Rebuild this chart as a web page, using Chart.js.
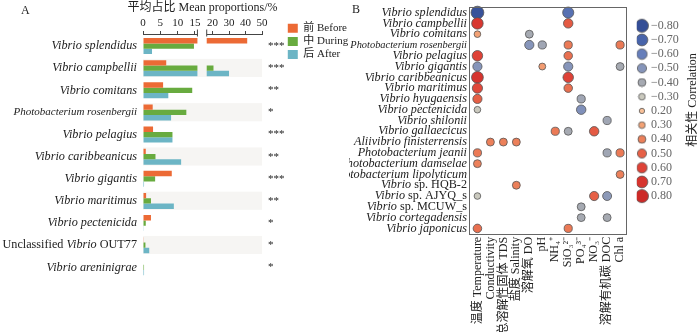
<!DOCTYPE html>
<html>
<head>
<meta charset="utf-8">
<script src="https://cdn.jsdelivr.net/npm/chart.js@4.4.1/dist/chart.umd.min.js"></script>
<style>
  html, body { margin: 0; padding: 0; background: #fff; }
  #wrap { position: relative; width: 700px; height: 332px; overflow: hidden; }
  #bars { position: absolute; left: 0; top: 0; }
  #dots { position: absolute; left: 349px; top: 0; }
</style>
</head>
<body>
<div id="wrap">
  <canvas id="bars" width="360" height="332"></canvas>
  <canvas id="dots" width="351" height="332"></canvas>
</div>
<script>
// ---- panel A: mean proportions (%) ----
const speciesA = ['Vibrio splendidus', 'Vibrio campbellii', 'Vibrio comitans', 'Photobacterium rosenbergii',
  'Vibrio pelagius', 'Vibrio caribbeanicus', 'Vibrio gigantis', 'Vibrio maritimus', 'Vibrio pectenicida',
  'Unclassified Vibrio OUT77', 'Vibrio areninigrae'];
const before = [41, 6.7, 5.8, 2.8, 2.9, 0.8, 8.3, 0.9, 2.3, 0.1, 0];
const during = [14.7, 20.6, 14.2, 12.5, 8.5, 3.6, 3.5, 2.3, 0.8, 0.7, 0.3];
const after = [2.6, 30, 7.3, 8.1, 8.5, 11, 0.3, 8.9, 0.1, 1.8, 0.3];
const stars = ['***', '***', '**', '*', '***', '**', '***', '**', '*', '*', '*'];
const xTicksA = [0, 5, 10, 15, 20, 30, 40, 50];
const axisBreak = [15.7, 16.5];

// ---- panel B: correlations ----
const speciesB = ['Vibrio splendidus', 'Vibrio campbellii', 'Vibrio comitans', 'Photobacterium rosenbergii',
  'Vibrio pelagius', 'Vibrio gigantis', 'Vibrio caribbeanicus', 'Vibrio maritimus', 'Vibrio hyugaensis',
  'Vibrio pectenicida', 'Vibrio shilonii', 'Vibrio gallaecicus', 'Aliivibrio finisterrensis',
  'Photobacterium jeanii', 'Photobacterium damselae', 'Photobacterium lipolyticum', 'Vibrio sp. HQB-2',
  'Vibrio sp. AJYQ_s', 'Vibrio sp. MCUW_s', 'Vibrio cortegadensis', 'Vibrio japonicus'];
const variables = ['温度 Temperature', 'Conductivity', '总溶解性固体 TDS', '盐度 Salinity', '溶解氧 DO', 'pH',
  'NH₄⁺', 'SiO₃²⁻', 'PO₄³⁻', 'NO₃⁻', '溶解有机碳 DOC', 'Chl a'];
const _ = null;
const corr = [
  [-0.78, _, _, _, _, _, _, -0.65, _, _, _, _],
  [0.68, _, _, _, _, _, _, 0.52, _, _, _, _],
  [0.3, _, _, _, -0.4, _, _, _, _, _, _, _],
  [_, _, _, _, -0.5, -0.42, _, 0.42, _, _, _, 0.42],
  [0.6, _, _, _, _, _, _, 0.45, _, _, _, _],
  [-0.5, _, _, _, _, 0.32, _, -0.5, _, _, _, -0.4],
  [0.7, _, _, _, _, _, _, 0.6, _, _, _, _],
  [0.58, _, _, _, _, _, _, 0.45, _, _, _, _],
  [0.5, _, _, _, _, _, _, _, -0.42, _, _, _],
  [-0.3, _, _, _, _, _, _, _, -0.52, _, _, _],
  [_, _, _, _, _, _, _, _, _, _, -0.42, _],
  [_, _, _, _, _, _, 0.42, -0.4, _, 0.52, _, _],
  [_, 0.4, 0.4, 0.4, _, _, _, _, _, _, _, _],
  [0.42, _, _, _, _, _, _, _, _, _, -0.42, 0.42],
  [0.4, _, _, _, _, _, _, _, _, _, _, _],
  [_, _, _, _, _, _, _, _, _, _, _, 0.4],
  [_, _, _, 0.4, _, _, _, _, _, _, _, _],
  [-0.3, _, _, _, _, _, _, _, _, 0.5, -0.48, _],
  [_, _, _, _, _, _, _, _, -0.4, _, _, _],
  [_, _, _, _, _, _, _, _, -0.4, _, -0.4, _],
  [0.45, _, _, _, _, _, _, 0.42, _, _, _, _]
];
const corrLevels = [-0.8, -0.7, -0.6, -0.5, -0.4, -0.3, 0.2, 0.3, 0.4, 0.5, 0.6, 0.7, 0.8];
const levelColors = [[52, 78, 150], [72, 100, 170], [102, 126, 186], [134, 149, 186], [166, 170, 178],
  [202, 201, 190], [248, 192, 152], [243, 162, 117], [236, 128, 90], [230, 96, 70], [222, 66, 55],
  [214, 52, 46], [204, 42, 40]];

const FONT = "'Liberation Serif', 'Noto Sans CJK SC', serif";
const INK = '#222';

function corrColor(v) {
  let i = corrLevels.findIndex(l => l >= v);
  if (i <= 0) i = i === 0 ? 0 : corrLevels.length - 1;
  else {
    const t = (v - corrLevels[i - 1]) / (corrLevels[i] - corrLevels[i - 1]);
    const c = levelColors[i - 1].map((a, k) => Math.round(a + (levelColors[i][k] - a) * t));
    return `rgb(${c})`;
  }
  return `rgb(${levelColors[i]})`;
}
const corrRadius = v => 1.4 + Math.abs(v) * 6.4;

function dotImage(v) {
  const r = corrRadius(v);
  const s = Math.ceil(2 * r + 2);
  const cv = document.createElement('canvas');
  cv.width = s; cv.height = s;
  const c = cv.getContext('2d');
  c.beginPath();
  c.arc(s / 2, s / 2, r, 0, Math.PI * 2);
  c.fillStyle = corrColor(v);
  c.fill();
  c.lineWidth = 0.8;
  c.strokeStyle = '#555';
  c.stroke();
  return cv;
}

// labels that mix italic genus names with upright text
function mixedParts(label) {
  let m = label.match(/^(Unclassified )(Vibrio)( .+)$/);
  if (m) return [[m[1], false], [m[2], true], [m[3], false]];
  m = label.match(/^(Vibrio)( sp\. .+)$/);
  if (m) return [[m[1], true], [m[2], false]];
  return null;
}

function drawMixed(ctx, parts, xRight, y, size) {
  ctx.save();
  ctx.textBaseline = 'middle';
  ctx.textAlign = 'left';
  ctx.fillStyle = INK;
  const fonts = parts.map(p => (p[1] ? 'italic ' : '') + size + 'px ' + FONT);
  let w = 0;
  parts.forEach((p, i) => { ctx.font = fonts[i]; w += ctx.measureText(p[0]).width; });
  let x = xRight - w;
  parts.forEach((p, i) => {
    ctx.font = fonts[i];
    ctx.fillText(p[0], x, y);
    x += ctx.measureText(p[0]).width;
  });
  ctx.restore();
}

// linear axis with a gap between axisBreak[0] and axisBreak[1]
class BrokenLinear extends Chart.LinearScale {
  static id = 'brokenLinear';
  static defaults = Chart.LinearScale.defaults;
  getPixelForValue(v) {
    const [b0, b1] = axisBreak;
    const f0 = 0.457, f1 = 0.535;
    let d;
    if (v <= b0) d = (v - this.min) / (b0 - this.min) * f0;
    else if (v >= b1) d = f1 + (v - b1) / (this.max - b1) * (1 - f1);
    else d = f0 + (v - b0) / (b1 - b0) * (f1 - f0);
    return this.getPixelForDecimal(d);
  }
}
Chart.register(BrokenLinear);

const panelA = {
  id: 'panelA',
  beforeDatasetsDraw(chart) {
    const {ctx, chartArea: a, scales: {x, y}} = chart;
    const pitch = y.getPixelForValue(1) - y.getPixelForValue(0);
    ctx.save();
    ctx.fillStyle = '#f6f5f3';
    speciesA.forEach((s, i) => {
      if (i % 2 === 1) {
        const c = y.getPixelForValue(i);
        ctx.fillRect(a.left, c - pitch * 0.42, a.right - a.left, pitch * 0.82);
      }
    });
    ctx.restore();
    const g0 = x.getPixelForValue(axisBreak[0]);
    const g1 = x.getPixelForValue(axisBreak[1]);
    ctx.save();
    ctx.beginPath();
    ctx.rect(0, 0, g0, chart.height);
    ctx.rect(g1, 0, chart.width - g1, chart.height);
    ctx.clip();
  },
  afterDatasetsDraw(chart) {
    chart.ctx.restore();
  },
  afterDraw(chart) {
    const {ctx, chartArea: a, scales: {x, y}} = chart;
    const ay = x.bottom - 0.5;
    const g0 = x.getPixelForValue(axisBreak[0]);
    const g1 = x.getPixelForValue(axisBreak[1]);
    ctx.save();
    ctx.strokeStyle = '#444';
    ctx.lineWidth = 1;
    ctx.beginPath();
    ctx.moveTo(x.getPixelForValue(0), ay); ctx.lineTo(g0, ay);
    ctx.moveTo(g1, ay); ctx.lineTo(x.getPixelForValue(50), ay);
    ctx.moveTo(g0, ay - 5); ctx.lineTo(g0, ay + 2);
    ctx.moveTo(g1, ay - 5); ctx.lineTo(g1, ay + 2);
    ctx.stroke();
    ctx.fillStyle = INK;
    ctx.textBaseline = 'middle';
    ctx.font = '12px ' + FONT;
    ctx.fillText('A', 21, 11);
    ctx.textAlign = 'center';
    ctx.fillText('平均占比 Mean proportions/%', (a.left + a.right) / 2, 8);
    ctx.restore();
    speciesA.forEach((s, i) => {
      const parts = mixedParts(s);
      if (parts) drawMixed(ctx, parts, y.right - 6, y.getPixelForValue(i), 12.2);
    });
  }
};

new Chart(document.getElementById('bars'), {
  type: 'bar',
  data: {
    labels: speciesA,
    datasets: [
      {label: '前 Before', data: before, backgroundColor: '#ec6a35'},
      {label: '中 During', data: during, backgroundColor: '#68ab3f'},
      {label: '后 After', data: after, backgroundColor: '#6cb5c5'}
    ]
  },
  options: {
    indexAxis: 'y',
    responsive: false,
    animation: false,
    categoryPercentage: 0.72,
    barPercentage: 1,
    layout: {padding: {left: 0, right: 1.8, top: 17, bottom: 53.6}},
    scales: {
      x: {
        type: 'brokenLinear',
        position: 'top',
        min: 0,
        max: 50,
        afterBuildTicks: s => { s.ticks = xTicksA.map(value => ({value})); },
        afterFit: s => { s.height = 18; },
        grid: {drawOnChartArea: false, tickLength: 4, color: '#444'},
        border: {display: false},
        ticks: {autoSkip: false, minRotation: 0, maxRotation: 0, padding: 1, color: INK,
          font: {family: FONT, size: 11}, callback: v => String(v)}
      },
      y: {
        afterFit: s => { s.width = 143; },
        grid: {display: false, drawTicks: false},
        border: {display: false},
        ticks: {
          autoSkip: false,
          padding: 6,
          color: INK,
          font: c => ({family: FONT, style: 'italic',
            size: speciesA[c.index] === 'Photobacterium rosenbergii' ? 11 : 12.2}),
          callback: (v, i) => mixedParts(speciesA[i]) ? '' : speciesA[i]
        }
      },
      stars: {
        type: 'category',
        labels: stars,
        position: 'right',
        offset: true,
        afterFit: s => { s.width = 23.5; },
        grid: {display: false, drawTicks: false},
        border: {display: false},
        ticks: {autoSkip: false, padding: 6, color: INK, font: {family: FONT, size: 11}}
      }
    },
    plugins: {
      title: {display: false},
      legend: {
        position: 'right',
        align: 'start',
        maxWidth: 120,
        title: {display: true, text: '', padding: {top: 2.3, bottom: 0}, font: {size: 1}},
        labels: {boxWidth: 10, boxHeight: 9, padding: 2.2, color: INK, font: {family: FONT, size: 11}}
      },
      tooltip: {enabled: false}
    }
  },
  plugins: [panelA]
});

// ---- panel B ----
const bubbles = [];
corr.forEach((row, i) => row.forEach((v, j) => {
  if (v !== null) bubbles.push({x: j, y: speciesB[i], v});
}));

const fmtCorr = v => (v < 0 ? '\u2212' : '') + Math.abs(v).toFixed(2);

const panelB = {
  id: 'panelB',
  afterDraw(chart) {
    const {ctx, chartArea: a, scales: {y}} = chart;
    ctx.save();
    ctx.strokeStyle = '#666';
    ctx.lineWidth = 1;
    ctx.strokeRect(Math.round(a.left) + 0.5, Math.round(a.top) + 0.5,
      Math.round(a.right - a.left), Math.round(a.bottom - a.top));
    ctx.fillStyle = INK;
    ctx.font = '12px ' + FONT;
    ctx.textBaseline = 'middle';
    ctx.fillText('B', 3, 10);
    ctx.translate(chart.width - 7, 100);
    ctx.rotate(-Math.PI / 2);
    ctx.textAlign = 'center';
    ctx.fillText('相关性 Correlation', 0, 0);
    ctx.restore();
    speciesB.forEach((s, i) => {
      const parts = mixedParts(s);
      if (parts) drawMixed(ctx, parts, y.right - 2, y.getPixelForValue(i), 12.2);
    });
  }
};

new Chart(document.getElementById('dots'), {
  type: 'bubble',
  data: {
    datasets: [{
      data: bubbles,
      backgroundColor: c => c.raw ? corrColor(c.raw.v) : '#999',
      radius: c => c.raw ? corrRadius(c.raw.v) : 3,
      borderColor: '#555',
      borderWidth: 0.8
    }]
  },
  options: {
    responsive: false,
    animation: false,
    layout: {padding: {left: 0, right: 11.3, top: 3.8, bottom: 0}},
    scales: {
      x: {
        type: 'linear',
        position: 'bottom',
        min: -0.65,
        max: 11.45,
        afterBuildTicks: s => { s.ticks = variables.map((t, value) => ({value})); },
        afterFit: s => { s.height = 98.2; },
        grid: {display: false, drawTicks: false},
        border: {display: false},
        ticks: {autoSkip: false, minRotation: 90, maxRotation: 90, padding: 3, color: INK,
          font: {family: FONT, size: 12}, callback: v => variables[v] ?? ''}
      },
      y: {
        type: 'category',
        labels: speciesB,
        offset: true,
        afterFit: s => { s.width = 120; s.paddingTop = 0; s.paddingBottom = 0; },
        grid: {display: false, drawTicks: false},
        border: {display: false},
        ticks: {
          autoSkip: false,
          padding: 2,
          color: INK,
          font: c => ({family: FONT, style: 'italic',
            size: speciesB[c.index] === 'Photobacterium rosenbergii' ? 10.4 : 12.2}),
          callback: (v, i) => mixedParts(speciesB[i]) ? '' : speciesB[i]
        }
      },
      gap: {
        type: 'linear',
        position: 'right',
        afterFit: s => { s.width = 10.8; s.paddingTop = 0; s.paddingBottom = 0; },
        grid: {display: false, drawTicks: false},
        border: {display: false},
        ticks: {display: false}
      }
    },
    plugins: {
      legend: {
        position: 'right',
        align: 'start',
        maxWidth: 120,
        title: {display: true, text: '', padding: {top: 12.5, bottom: 0}, font: {size: 1}},
        labels: {
          usePointStyle: true,
          pointStyleWidth: 6,
          padding: 2.2,
          color: INK,
          font: {family: FONT, size: 12},
          generateLabels: () => corrLevels.map(v => ({
            text: fmtCorr(v), pointStyle: dotImage(v), fillStyle: corrColor(v),
            strokeStyle: '#555', lineWidth: 0, hidden: false
          }))
        }
      },
      tooltip: {enabled: false}
    }
  },
  plugins: [panelB]
});
</script>
</body>
</html>
